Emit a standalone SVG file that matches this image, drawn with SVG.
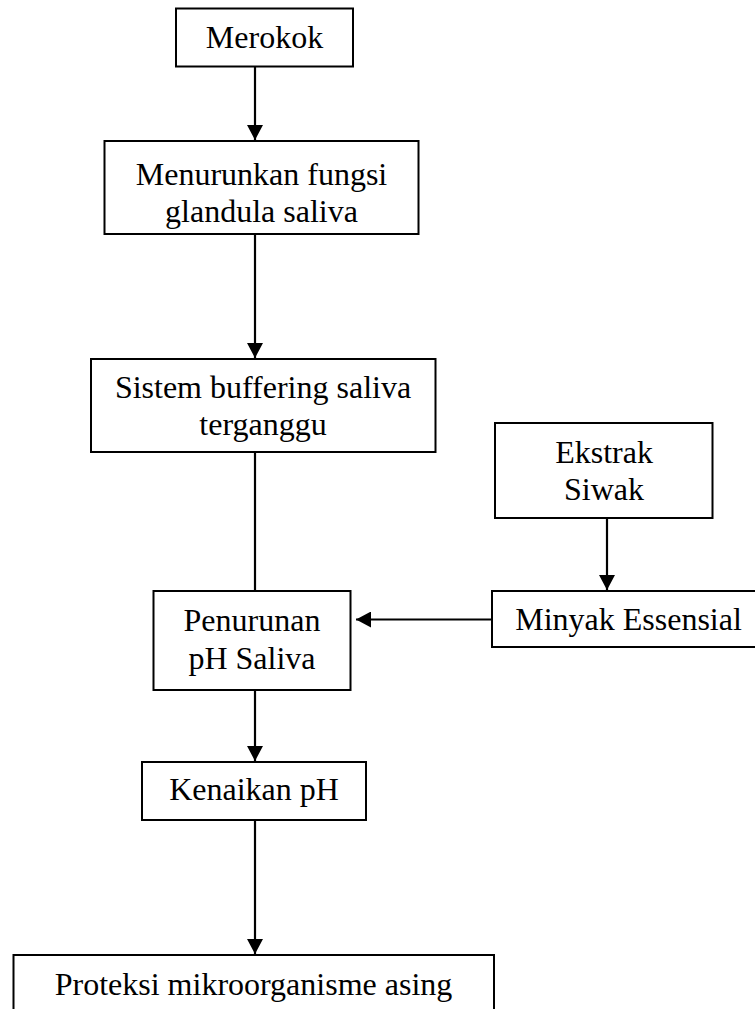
<svg xmlns="http://www.w3.org/2000/svg" width="755" height="1009" viewBox="0 0 755 1009">
<style>
.box{fill:#fff;stroke:#000;stroke-width:2}
.t{font-family:"Liberation Serif","Times New Roman",serif;font-size:32px;fill:#000;text-anchor:middle}
.c{stroke:#000;stroke-width:2.2;fill:none}
</style>
<defs>
<marker id="ah" viewBox="0 0 15 16" refX="15" refY="8" markerWidth="15" markerHeight="16" markerUnits="userSpaceOnUse" orient="auto">
<path d="M0,0 L15,8 L0,16 z" fill="#000"/>
</marker>
</defs>
<rect width="755" height="1009" fill="#fff"/>
<g id="connectors">
<line class="c" x1="255" y1="67" x2="255" y2="140" marker-end="url(#ah)"/>
<line class="c" x1="255" y1="234" x2="255" y2="358" marker-end="url(#ah)"/>
<line class="c" x1="255" y1="452" x2="255" y2="591"/>
<line class="c" x1="607" y1="518" x2="607" y2="590" marker-end="url(#ah)"/>
<line class="c" x1="492" y1="619.5" x2="356" y2="619.5" marker-end="url(#ah)"/>
<line class="c" x1="255" y1="690" x2="255" y2="761" marker-end="url(#ah)"/>
<line class="c" x1="255" y1="820" x2="255" y2="954" marker-end="url(#ah)"/>
</g>
<g id="merokok">
<rect class="box" x="176" y="8.5" width="177" height="58"/>
<text class="t" x="264.5" y="48">Merokok</text>
</g>
<g id="menurunkan">
<rect class="box" x="104.5" y="141" width="314" height="93"/>
<text class="t" x="261.5" y="185">Menurunkan fungsi</text>
<text class="t" x="261.5" y="222">glandula saliva</text>
</g>
<g id="sistem">
<rect class="box" x="91" y="359" width="344.5" height="93"/>
<text class="t" x="263" y="398">Sistem buffering saliva</text>
<text class="t" x="263" y="434.5">terganggu</text>
</g>
<g id="ekstrak">
<rect class="box" x="495" y="423" width="217.5" height="95"/>
<text class="t" x="604" y="463">Ekstrak</text>
<text class="t" x="604" y="500">Siwak</text>
</g>
<g id="minyak">
<rect class="box" x="492" y="591" width="270" height="56"/>
<text class="t" x="628.5" y="630">Minyak Essensial</text>
</g>
<g id="penurunan">
<rect class="box" x="153.5" y="591" width="197" height="99"/>
<text class="t" x="252" y="631">Penurunan</text>
<text class="t" x="252" y="668.5">pH Saliva</text>
</g>
<g id="kenaikan">
<rect class="box" x="142" y="762" width="224" height="58"/>
<text class="t" x="254" y="800">Kenaikan pH</text>
</g>
<g id="proteksi">
<rect class="box" x="13.5" y="955" width="480.5" height="70"/>
<text class="t" x="253.5" y="995">Proteksi mikroorganisme asing</text>
</g>
</svg>
